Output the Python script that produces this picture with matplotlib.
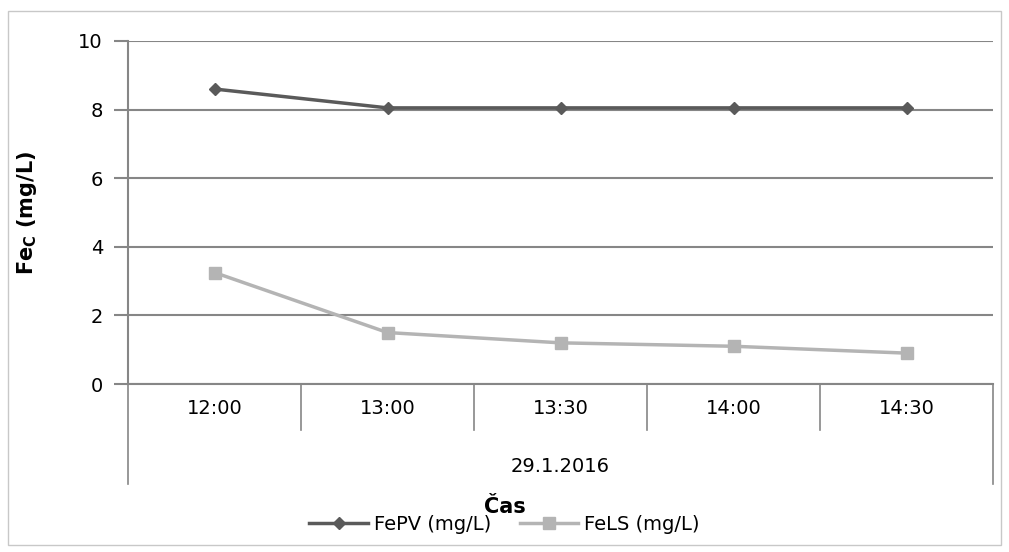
import matplotlib.pyplot as plt
import numpy as np

# données
casy = ['12:00', '13:00', '13:30', '14:00', '14:30']
datum = '29.1.2016'
FePV = [8.6, 8.05, 8.05, 8.05, 8.05]
FeLS = [3.25, 1.5, 1.2, 1.1, 0.9]

plt.rcParams['font.family'] = ['DejaVu Sans']

fig = plt.figure(figsize=(10.09, 5.52), dpi=100)
ax = fig.add_axes([128/1009, 1-384/552, 865/1009, 343/552])

x = np.arange(len(casy))
ax.plot(x, FePV, '-', color='#5a5a5a', lw=2.5, marker='D', ms=6, label='FePV (mg/L)')
ax.plot(x, FeLS, '-', color='#b4b4b4', lw=2.5, marker='s', ms=8, label='FeLS (mg/L)')

ax.set_xlim(-0.5, len(casy)-0.5)
ax.set_ylim(0, 10)
ax.set_yticks([0, 2, 4, 6, 8, 10])
ax.grid(axis='y', color='#868686', lw=1.5)
ax.set_axisbelow(True)
for s in ['top', 'right', 'bottom']:
    ax.spines[s].set_visible(False)
ax.spines['left'].set_color('#868686')
ax.spines['left'].set_linewidth(1.5)
ax.tick_params(axis='y', length=10, width=1.5, color='#868686', labelsize=14, pad=8)
ax.set_xticks([])

# axe des catégories à deux niveaux
tr = ax.transAxes
n = len(casy)
ax.plot([0, 1], [0, 0], transform=tr, color='#868686', lw=1.5, clip_on=False)
for i in range(n+1):
    y0 = -0.292 if i in (0, n) else -0.134
    ax.plot([i/n, i/n], [0, y0], transform=tr, color='#868686', lw=1.2, clip_on=False)
for i, c in enumerate(casy):
    ax.text((i+0.5)/n, -0.07, c, transform=tr, ha='center', va='center', fontsize=14)
ax.text(0.5, -0.24, datum, transform=tr, ha='center', va='center', fontsize=14)

fig.text(0.5, 1-507/552, 'Čas', ha='center', va='center', fontsize=15, fontweight='bold')
ax.set_ylabel(r'Fe$_\mathregular{C}$ (mg/L)', fontsize=15, fontweight='bold', labelpad=28)

fig.legend(loc='center', bbox_to_anchor=(0.5, 1-524/552), ncol=2, frameon=False,
           fontsize=14, handlelength=3, columnspacing=1.5, handletextpad=0.3)

# cadre extérieur
fig.add_artist(plt.Rectangle((8/1009, 1-545/552), 993/1009, 534/552, transform=fig.transFigure,
                             fill=False, edgecolor='#c8c8c8', lw=1))

fig.savefig('out.png', dpi=100)
